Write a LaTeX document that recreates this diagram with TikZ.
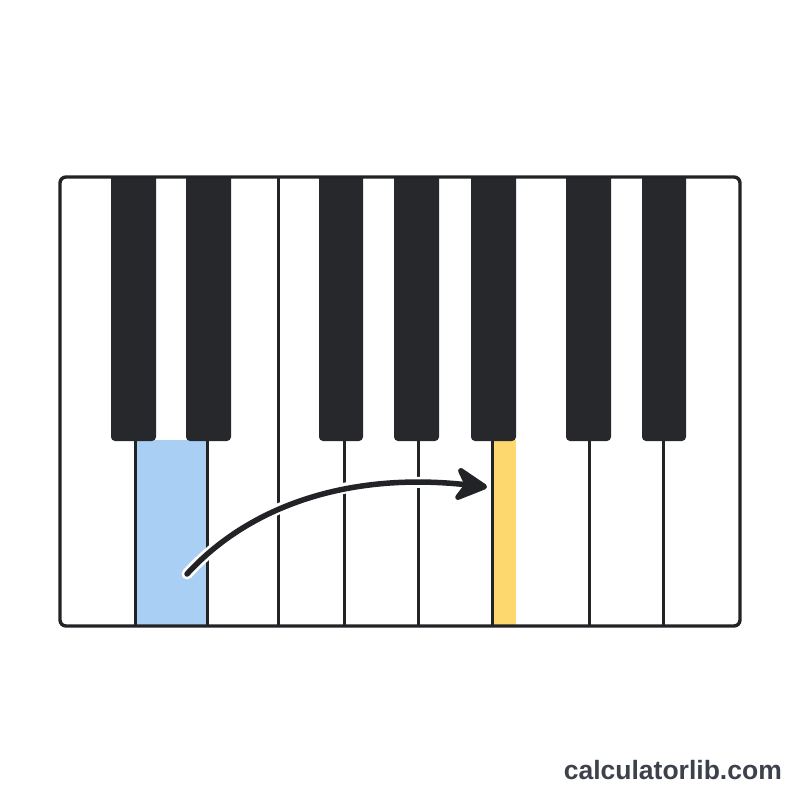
\documentclass[tikz,border=0pt]{standalone}
\usepackage{fontspec}
\setmainfont{Liberation Sans}
\usetikzlibrary{arrows.meta}
\definecolor{keyblack}{HTML}{27282C}
\definecolor{outline}{HTML}{222326}
\definecolor{bluekey}{HTML}{A9CFF5}
\definecolor{yellowkey}{HTML}{FCD86E}
\definecolor{logo}{HTML}{3C414B}
\tikzset{
  blackkey/.style={fill=keyblack, rounded corners=4pt},
  divider/.style={draw=outline, line width=3pt},
  frame/.style={draw=outline, line width=3.4pt, rounded corners=6pt},
  halo/.style={draw=white, line width=11pt, line cap=round},
  arrowline/.style={draw=outline, line width=5.5pt, line cap=round, -{Stealth[length=38pt,width=40pt,inset=12pt,round]}},
}
\begin{document}
\begin{tikzpicture}[x=1pt,y=-1pt]
\useasboundingbox[fill=white] (0,0) rectangle (800,800);
% key fills
\fill[bluekey] (135,440) rectangle (207,626);
\fill[yellowkey] (492,440) rectangle (516,626);
% dividers
\foreach \x in {135,207,278,344,418,492,589,663}
  \draw[divider] (\x,177) -- (\x,626);
% black keys
\begin{scope}
\clip[rounded corners=6pt] (60,177) rectangle (740,626);
\foreach \a/\b in {111/156,186/231,319/363,394/439,471/516,566/611,642/686}
  \fill[blackkey] (\a,160) rectangle (\b,441);
\end{scope}
% frame
\draw[frame] (60,177) rectangle (740,626);
% arrow
\coordinate (from) at (187,574);
\coordinate (to) at (487,487);
\draw[halo] (from) .. controls (250,505) and (350,472) .. (450,485);
\draw[arrowline] (from) .. controls (250,505) and (350,472) .. (to);
% logo
\node[text=logo, font=\bfseries\fontsize{26.5}{29}\selectfont, anchor=base east, inner sep=0pt] (logo) at (782,779) {calculatorlib.com};
\end{tikzpicture}
\end{document}
